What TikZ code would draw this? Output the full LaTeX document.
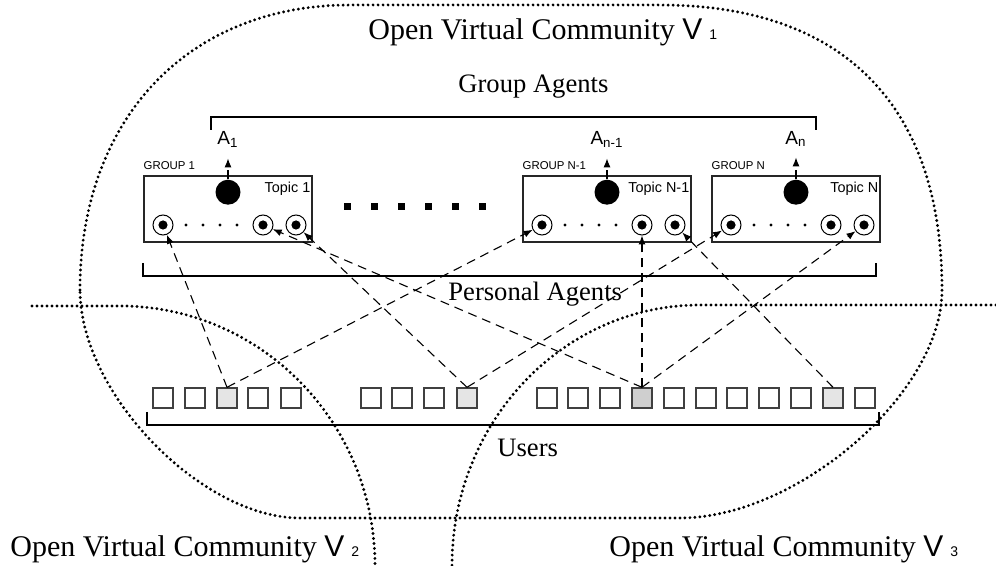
\documentclass[tikz,border=0pt]{standalone}
\usepackage{fontspec}
\setmainfont{Liberation Serif}
\setsansfont{Liberation Sans}
\usetikzlibrary{positioning, arrows.meta}

\begin{document}
\begin{tikzpicture}[x=0.5pt, y=-0.5pt, >={Latex[length=4.5pt, width=3.5pt]},
    community/.style={line width=1.6pt, dash pattern=on 0pt off 2.5pt, line cap=round},
    link/.style={->, line width=0.55pt, dash pattern=on 4.5pt off 3pt},
    bracket/.style={line width=0.6pt},
    group/.style={draw=black!85, line width=0.7pt, minimum width=84pt, minimum height=33pt, inner sep=0pt},
    agent/.style={circle, fill=black, minimum size=12.5pt, inner sep=0pt},
    personal/.style={circle, draw, line width=0.5pt, minimum size=10pt, inner sep=0pt,
        path picture={\fill (path picture bounding box.center) circle (2.3pt);}},
    user/.style={draw=black!75, line width=0.7pt, minimum size=10pt, inner sep=0pt},
    caption/.style={font=\fontsize{13.3}{15}\selectfont, inner sep=0pt},
    vcaption/.style={font=\fontsize{15}{17}\selectfont, inner sep=0pt},
    topic/.style={font=\sffamily\fontsize{7.2}{8}\selectfont, inner sep=0pt},
    grouptag/.style={font=\sffamily\fontsize{5.7}{6}\selectfont, inner sep=0pt},
    agentname/.style={font=\sffamily\fontsize{9.5}{11}\selectfont, inner sep=0pt}]

    \useasboundingbox (0,0) rectangle (996,566);

    % Community borders: V1 all round, V2 and V3 cut off at the bottom
    \draw[community] (80,290) .. controls (80,119) and (188,5) .. (350,5) -- (660,5)
        .. controls (843,5) and (942,105) .. (942,290)
        .. controls (942,393) and (798,518) .. (680,518) -- (300,518)
        .. controls (201,518) and (80,393) .. cycle;
    \draw[community] (32,306) -- (120,306) arc[start angle=-90, end angle=0, x radius=255, y radius=260];
    \draw[community] (996,305) -- (700,305) arc[start angle=-90, end angle=-180, x radius=248, y radius=261];

    \node[vcaption, anchor=base west] (v1) at (368,40) {Open Virtual Community {\sffamily V\kern3.5pt\fontsize{7}{8}\selectfont 1}};
    \node[vcaption, anchor=base west] (v2) at (10,556) {Open Virtual Community {\sffamily V\kern3.5pt\fontsize{7}{8}\selectfont 2}};
    \node[vcaption, anchor=base west] (v3) at (609,556) {Open Virtual Community {\sffamily V\kern3.5pt\fontsize{7}{8}\selectfont 3}};

    % Group boxes
    \node[group] (g1) at (228,209) {};
    \node[group] (gN1) at (607,209) {};
    \node[group] (gN) at (796,209) {};

    \node[grouptag, above right=2.5pt and 0pt of g1.north west] {GROUP 1};
    \node[grouptag, above right=2.5pt and 0pt of gN1.north west] {GROUP N-1};
    \node[grouptag, above right=2.5pt and 0pt of gN.north west] {GROUP N};

    % Group agents with their topics
    \node[agent, below=2pt of g1.north] (a1) {};
    \node[agent, below=2pt of gN1.north] (aN1) {};
    \node[agent, below=2pt of gN.north] (aN) {};

    \node[topic, anchor=east, xshift=-1pt, yshift=1.5pt] at (g1.east |- a1) {Topic 1};
    \node[topic, anchor=east, xshift=-1pt, yshift=1.5pt] at (gN1.east |- aN1) {Topic N-1};
    \node[topic, anchor=east, xshift=-1pt, yshift=1.5pt] at (gN.east |- aN) {Topic N};

    \node[agentname, anchor=base] (A1) at (a1 |- 0,145) {A\textsubscript{1}};
    \node[agentname, anchor=base] (AN1) at (aN1 |- 0,145) {A\textsubscript{n-1}};
    \node[agentname, anchor=base] (AN) at (aN |- 0,145) {A\textsubscript{n}};

    \draw[link, shorten >=5pt] (a1) -- (a1 |- A1.south);
    \draw[link, shorten >=5pt] (aN1) -- (aN1 |- AN1.south);
    \draw[link, shorten >=5pt] (aN) -- (aN |- AN.south);

    % Personal agents inside each group
    \foreach \g/\l in {g1/144, gN1/523, gN/712} {
        \node[personal] (\g-1) at ({\l+19},225) {};
        \node[personal] (\g-2) at ({\l+119},225) {};
        \node[personal] (\g-3) at ({\l+152},225) {};
        \foreach \d in {42,59,76,93}
            \fill ({\l+\d},225) circle (0.8pt);
    }

    % more groups in between
    \foreach \x in {347,374,401,428,455,482}
        \fill ({\x-3.5},203.5) rectangle ({\x+3.5},210.5);

    % Users
    \foreach \x/\shade [count=\i] in {163/white, 195/white, 227/black!10, 258/white, 291/white,
            371/white, 402/white, 434/white, 467/black!10,
            547/white, 578/white, 610/white, 642/black!19, 674/white, 706/white,
            737/white, 769/white, 801/white, 833/black!10, 865/white}
        \node[user, fill=\shade] (u\i) at (\x,398) {};

    % Brackets and their captions
    \draw[bracket] (211,130) -- (211,117) -- (816,117) -- (816,130);
    \draw[bracket] (143,263) -- (143,276) -- (876,276) -- (876,263);
    \draw[bracket] (147,412) -- (147,425) -- (879,425) -- (879,412);

    \node[caption, anchor=base west] (ga) at (458,93) {Group Agents};
    \node[caption, anchor=base west] (pa) at (448,301) {Personal Agents};
    \node[caption, anchor=base west] (us) at (497,457) {Users};

    % Users registered with personal agents
    \path[link]
    (u3.north) edge (g1-1)
    (u3.north) edge (gN1-1)
    (u9.north) edge (g1-3)
    (u9.north) edge (gN-1)
    (u13.north) edge (g1-2)
    (u13.north) edge (gN1-2)
    (u13.north) edge (gN-3)
    (u19.north) edge (gN1-3);
\end{tikzpicture}
\end{document}
